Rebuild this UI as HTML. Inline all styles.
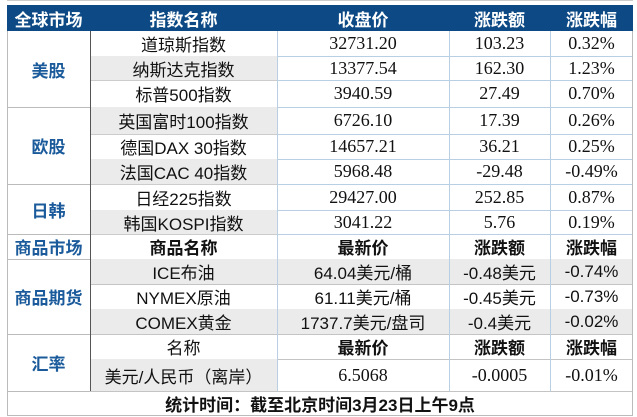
<!DOCTYPE html><html><head><meta charset="utf-8"><style>
body{margin:0;width:637px;height:417px;background:#fff;overflow:hidden;position:relative;font-family:"Liberation Sans","Noto Sans CJK SC",sans-serif}
.c{position:absolute;display:flex;align-items:center;justify-content:center;box-sizing:border-box;color:#111;font-size:17px;white-space:nowrap}
.h{background:#0d4a85;color:#fff;font-weight:bold;font-size:17px}
.m{color:#1b5b9b;font-weight:bold;font-size:17px}
.s{font-family:"Liberation Serif","Noto Serif CJK SC",serif;font-size:18px}
.g{background:#ebebeb}
.b{font-weight:bold}
.hl{position:absolute;height:1px;background:#b9cfe3}
.vl{position:absolute;width:1px;background:#b9cfe3}
</style></head><body>
<div class="hl" style="left:7px;top:0;width:626px;background:#ccc"></div>
<div class="c h" style="left:7px;top:5px;width:83px;height:26px">全球市场</div>
<div class="c h" style="left:90px;top:5px;width:187px;height:26px">指数名称</div>
<div class="c h" style="left:277px;top:5px;width:172px;height:26px">收盘价</div>
<div class="c h" style="left:449px;top:5px;width:101px;height:26px">涨跌额</div>
<div class="c h" style="left:550px;top:5px;width:83px;height:26px">涨跌幅</div>
<div id="rows"></div>
<script>
var R=[[31,56,'道琼斯指数','32731.20','103.23','0.32%',0],[56,80,'纳斯达克指数','13377.54','162.30','1.23%',1],[80,107,'标普500指数','3940.59','27.49','0.70%',0],[107,134,'英国富时100指数','6726.10','17.39','0.26%',1],[134,159,'德国DAX 30指数','14657.21','36.21','0.25%',0],[159,184,'法国CAC 40指数','5968.48','-29.48','-0.49%',1],[184,210,'日经225指数','29427.00','252.85','0.87%',0],[210,234,'韩国KOSPI指数','3041.22','5.76','0.19%',1]];
var C=[[234,259,'商品名称','最新价','涨跌额','涨跌幅',2],[259,284,'ICE布油','64.04美元/桶','-0.48美元','-0.74%',3],[284,309,'NYMEX原油','61.11美元/桶','-0.45美元','-0.73%',4],[309,334,'COMEX黄金','1737.7美元/盘司','-0.4美元','-0.02%',3],[334,359,'名称','最新价','涨跌额','涨跌幅',5],[359,391,'美元/人民币（离岸）','6.5068','-0.0005','-0.01%',6]];
var h='';
function cell(l,t,w,hh,txt,cls){h+='<div class="c '+cls+'" style="left:'+l+'px;top:'+t+'px;width:'+w+'px;height:'+hh+'px">'+txt+'</div>';}
R.forEach(function(r){var H=r[1]-r[0];cell(90,r[0],187,H,r[2],r[6]?'g':'');cell(277,r[0],172,H,r[3],'s');cell(449,r[0],101,H,r[4],'s');cell(550,r[0],83,H,r[5],'s');h+='<div class="hl" style="left:277px;top:'+r[1]+'px;width:356px"></div><div class="hl" style="left:90px;top:'+r[1]+'px;width:187px;background:#ccc"></div>';});
C.forEach(function(r){var H=r[1]-r[0],k=r[6];
if(k==2){cell(90,r[0],187,H,r[2],'b');cell(277,r[0],172,H,r[3],'b');cell(449,r[0],101,H,r[4],'b');cell(550,r[0],83,H,r[5],'b');}
else if(k==5){cell(90,r[0],187,H,r[2],'');cell(277,r[0],172,H,r[3],'b');cell(449,r[0],101,H,r[4],'b');cell(550,r[0],83,H,r[5],'b');}
else if(k==6){cell(90,r[0],187,H,r[2],'g');cell(277,r[0],172,H,r[3],'s');cell(449,r[0],101,H,r[4],'s');cell(550,r[0],83,H,r[5],'s');}
else{var g=k==3?'g':'';cell(90,r[0],187,H,r[2],g);cell(277,r[0],172,H,r[3],g);cell(449,r[0],101,H,r[4],g);cell(550,r[0],83,H,r[5],g);}
h+='<div class="hl" style="left:90px;top:'+r[1]+'px;width:543px;background:#c4c4c4"></div>';});
cell(7,31,83,76,'美股','m');cell(7,107,83,77,'欧股','m');cell(7,184,83,50,'日韩','m');cell(7,234,83,25,'商品市场','m');cell(7,259,83,75,'商品期货','m');cell(7,334,83,57,'汇率','m');
[107,184,234,259,334,391].forEach(function(y){h+='<div class="hl" style="left:7px;top:'+y+'px;width:83px;background:#bbb"></div>';});
cell(7,391,626,25,'统计时间：截至北京时间3月23日上午9点','b');
h+='<div class="vl" style="left:90px;top:31px;height:360px;background:#555"></div>';
h+='<div class="vl" style="left:277px;top:31px;height:360px"></div><div class="vl" style="left:449px;top:31px;height:360px"></div><div class="vl" style="left:550px;top:31px;height:360px"></div>';
h+='<div class="vl" style="left:7px;top:31px;height:385px;background:#bbb"></div><div class="vl" style="left:632px;top:31px;height:385px;background:#bbb"></div><div class="hl" style="left:7px;top:415px;width:626px;background:#bbb"></div>';
document.getElementById('rows').innerHTML=h;
</script>
</body></html>
